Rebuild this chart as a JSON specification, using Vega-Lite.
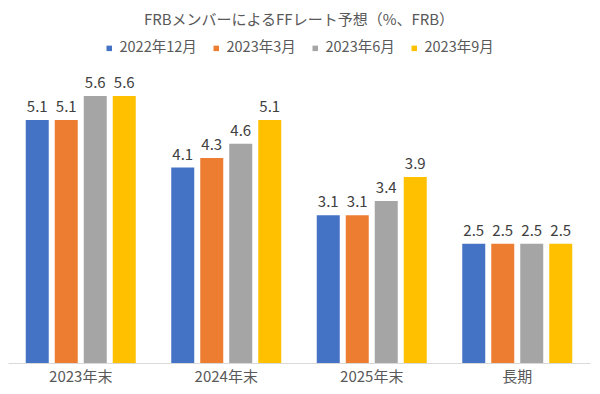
{
  "$schema": "https://vega.github.io/schema/vega-lite/v6.json",
  "autosize": {"type": "none"},
  "width": 582,
  "height": 286,
  "padding": {"left": 8, "top": 77, "right": 10, "bottom": 31},
  "background": "white",
  "title": {
    "text": "FRBメンバーによるFFレート予想（%、FRB）",
    "font": "Noto Sans CJK JP",
    "fontSize": 15,
    "fontWeight": "normal",
    "color": "#595959",
    "anchor": "middle",
    "frame": "group",
    "offset": 13
  },
  "data": {
    "values": [
      {"period": "2023年末", "series": "2022年12月", "value": 5.1},
      {"period": "2023年末", "series": "2023年3月", "value": 5.1},
      {"period": "2023年末", "series": "2023年6月", "value": 5.6},
      {"period": "2023年末", "series": "2023年9月", "value": 5.6},
      {"period": "2024年末", "series": "2022年12月", "value": 4.1},
      {"period": "2024年末", "series": "2023年3月", "value": 4.3},
      {"period": "2024年末", "series": "2023年6月", "value": 4.6},
      {"period": "2024年末", "series": "2023年9月", "value": 5.1},
      {"period": "2025年末", "series": "2022年12月", "value": 3.1},
      {"period": "2025年末", "series": "2023年3月", "value": 3.1},
      {"period": "2025年末", "series": "2023年6月", "value": 3.4},
      {"period": "2025年末", "series": "2023年9月", "value": 3.9},
      {"period": "長期", "series": "2022年12月", "value": 2.5},
      {"period": "長期", "series": "2023年3月", "value": 2.5},
      {"period": "長期", "series": "2023年6月", "value": 2.5},
      {"period": "長期", "series": "2023年9月", "value": 2.5}
    ]
  },
  "encoding": {
    "x": {
      "field": "period", "type": "nominal", "sort": null,
      "scale": {"paddingInner": 0.244, "paddingOuter": 0.122},
      "axis": {
        "title": null, "labelAngle": 0, "ticks": false,
        "domainColor": "#d9d9d9", "labelColor": "#595959",
        "labelFont": "Noto Sans CJK JP", "labelFontSize": 15, "labelPadding": 6
      }
    },
    "xOffset": {
      "field": "series", "type": "nominal", "sort": null,
      "scale": {"paddingInner": 0.207, "paddingOuter": 0}
    },
    "y": {
      "field": "value", "type": "quantitative",
      "scale": {"domain": [0, 6], "nice": false},
      "axis": null
    }
  },
  "layer": [
    {
      "mark": {"type": "bar"},
      "encoding": {
        "color": {
          "field": "series", "type": "nominal", "sort": null,
          "scale": {
            "domain": ["2022年12月", "2023年3月", "2023年6月", "2023年9月"],
            "range": ["#4472C4", "#ED7D31", "#A5A5A5", "#FFC000"]
          },
          "legend": {
            "title": null, "orient": "none", "direction": "horizontal",
            "legendX": 94, "legendY": -36,
            "symbolType": "square", "symbolSize": 30,
            "labelFont": "Noto Sans CJK JP", "labelFontSize": 14.5,
            "labelColor": "#595959", "columnPadding": 12, "labelOffset": 3
          }
        }
      }
    },
    {
      "mark": {"type": "text", "dy": -8, "baseline": "alphabetic", "font": "Noto Sans CJK JP", "fontSize": 15, "color": "#404040"},
      "encoding": {
        "text": {"field": "value", "type": "quantitative", "format": ".1f"}
      }
    }
  ],
  "config": {"view": {"stroke": null}}
}
